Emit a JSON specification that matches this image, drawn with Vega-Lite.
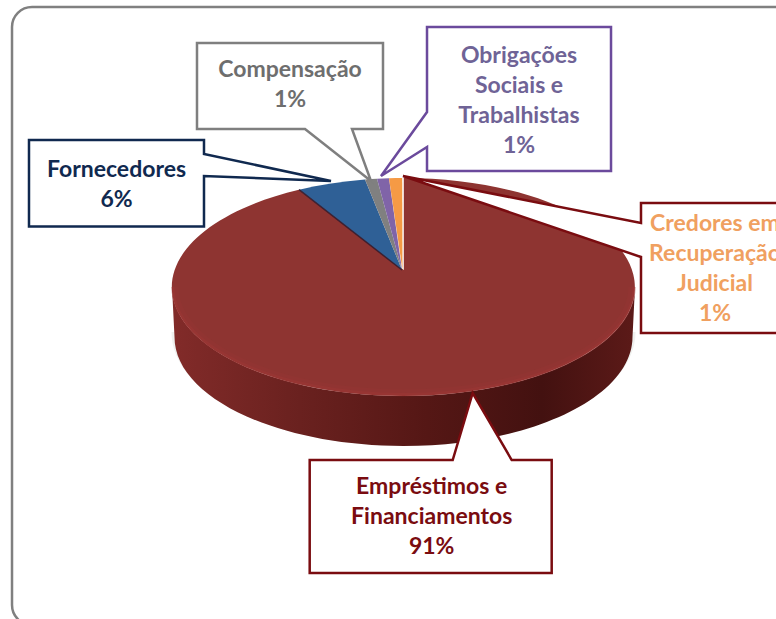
{
"$schema":"https://vega.github.io/schema/vega-lite/v6.json",
"width":776,"height":619,"padding":0,"autosize":{"type":"none"},
"background":"white",
"config":{"view":{"stroke":null}},
"data":{"values":[
{"slice":"Empréstimos e Financiamentos","pct":91,"label":"Empréstimos e\nFinanciamentos\n91%","lx":0.1242,"ly":-2.2661,"ty":-1.9908},
{"slice":"Fornecedores","pct":6,"label":"Fornecedores\n6%","lx":-1.2403,"ly":0.7844,"ty":0.9174},
{"slice":"Compensação","pct":1,"label":"Compensação\n1%","lx":-0.4892,"ly":1.6881,"ty":1.8349},
{"slice":"Obrigações Sociais e Trabalhistas","pct":1,"label":"Obrigações\nSociais e\nTrabalhistas\n1%","lx":0.5022,"ly":1.5505,"ty":1.9633},
{"slice":"Credores em Recuperação Judicial","pct":1,"label":"Credores em\nRecuperação\nJudicial\n1%","lx":1.3506,"ly":0.0092,"ty":0.422}
]},
"resolve":{"scale":{"shape":"independent","color":"independent","stroke":"independent"}},
"layer":[
{"mark":{"type":"rect","fill":"white","stroke":"#808080","strokeWidth":2.5,"cornerRadius":20},
 "transform":[{"filter":"datum.pct==91"}],
 "encoding":{
  "x":{"datum":-1.6926,"type":"quantitative","scale":{"domain":[-1.7446,1.6147],"nice":false,"zero":false},"axis":null},
  "x2":{"datum":1.697},
  "y":{"datum":2.4128,"type":"quantitative","scale":{"domain":[-3.2018,2.4771],"nice":false,"zero":false},"axis":null},
  "y2":{"datum":-3.2569}}},
{"mark":{"type":"point","filled":false,"fill":"transparent","stroke":"#eceeec","strokeWidth":3,"opacity":0.8,"size":4},
 "transform":[{"filter":"datum.pct==91"}],
 "encoding":{
  "x":{"datum":0,"type":"quantitative","axis":null},"y":{"datum":0,"type":"quantitative","axis":null},
  "shape":{"value":"M-230,62 A230,112 0 0 0 231,62"}}},
{"mark":{"type":"point","filled":true,"opacity":1,"size":4,"strokeWidth":0,
  "fill":{"gradient":"linear","x1":0,"y1":0,"x2":1,"y2":0,"stops":[{"offset":0,"color":"#822b29"},{"offset":0.25,"color":"#6c2220"},{"offset":0.55,"color":"#551715"},{"offset":0.8,"color":"#431110"},{"offset":1,"color":"#5c1a18"}]}},
 "transform":[{"filter":"datum.pct==91"}],
 "encoding":{
  "x":{"datum":0,"type":"quantitative","axis":null},"y":{"datum":0,"type":"quantitative","axis":null},
  "shape":{"value":"M-231,17 A231.5,109 0 0 0 232,17 L229.5,67 A229,109 0 0 1 -228.5,67 Z"}}},
{"mark":{"type":"point","filled":true,"opacity":1,"size":4,"strokeWidth":0},
 "encoding":{
  "x":{"datum":0,"type":"quantitative","axis":null},"y":{"datum":0,"type":"quantitative","axis":null},
  "shape":{"field":"slice","type":"nominal","legend":null,"scale":{
    "domain":["Empréstimos e Financiamentos","Fornecedores","Compensação","Obrigações Sociais e Trabalhistas","Credores em Recuperação Judicial"],
    "range":["M0.8,0 L0.8,-92 A231.5,109 0 1 1 -104,-80.3 Z","M-1,0 L-104,-80.3 A231.5,109 0 0 1 -38,-90.5 Z","M-1,0 L-38,-90.5 A231.5,109 0 0 1 -26,-91.3 Z","M-1,0 L-26,-91.3 A231.5,109 0 0 1 -14,-91.8 Z","M-0.5,0 L-14,-91.8 A231.5,109 0 0 1 -0.8,-92 Z"]}},
  "color":{"field":"slice","type":"nominal","legend":null,"scale":{
    "domain":["Empréstimos e Financiamentos","Fornecedores","Compensação","Obrigações Sociais e Trabalhistas","Credores em Recuperação Judicial"],
    "range":["#8e3431","#2f6096","#808080","#8064a8","#f59a45"]}}}},
{"mark":{"type":"point","filled":false,"fill":"transparent","stroke":"#3a1c2c","strokeWidth":1.5,"opacity":0.9,"size":4},
 "transform":[{"filter":"datum.pct==6"}],
 "encoding":{
  "x":{"datum":0,"type":"quantitative","axis":null},"y":{"datum":0,"type":"quantitative","axis":null},
  "shape":{"value":"M-1,0 L-104,-80.3"}}},
{"mark":{"type":"point","filled":false,"fill":"transparent","stroke":"#a03836","strokeWidth":7,"opacity":0.2,"size":4},
 "transform":[{"filter":"datum.pct==91"}],
 "encoding":{
  "x":{"datum":0,"type":"quantitative","axis":null},"y":{"datum":0,"type":"quantitative","axis":null},
  "shape":{"value":"M-228,17 A228.5,106 0 0 0 229,17"}}},
{"mark":{"type":"point","filled":false,"fill":"transparent","stroke":"#a03836","strokeWidth":3,"opacity":0.4,"size":4},
 "transform":[{"filter":"datum.pct==91"}],
 "encoding":{
  "x":{"datum":0,"type":"quantitative","axis":null},"y":{"datum":0,"type":"quantitative","axis":null},
  "shape":{"value":"M-230,17 A230.5,107.5 0 0 0 231,17"}}},
{"mark":{"type":"point","filled":true,"fill":"white","opacity":1,"size":4,"strokeWidth":2.5,"strokeJoin":"miter"},
 "encoding":{
  "x":{"field":"lx","type":"quantitative","axis":null},"y":{"field":"ly","type":"quantitative","axis":null},
  "shape":{"field":"slice","type":"nominal","legend":null,"scale":{
    "domain":["Empréstimos e Financiamentos","Fornecedores","Compensação","Obrigações Sociais e Trabalhistas","Credores em Recuperação Judicial"],
    "range":[
     "M-122,-57 L21,-57 L41,-124 L80,-57 L120,-57 L120,56 L-122,56 Z",
     "M-87.5,-44.5 L87.5,-44.5 L87.5,-30.5 L214.5,-3.5 L87.5,-8.5 L87.5,42 L-87.5,42 Z",
     "M-93,-43 L93,-43 L93,43 L62,43 L81,95 L15,43 L-93,43 Z",
     "M-92,-74 L92,-74 L92,70 L-92,70 L-92,46 L-138,75 L-92,11 Z",
     "M-74,-66 L85,-66 L85,64 L-74,64 L-74,-12 L-312,-93 L-74,-46 Z"]}},
  "stroke":{"field":"slice","type":"nominal","legend":null,"scale":{
    "domain":["Empréstimos e Financiamentos","Fornecedores","Compensação","Obrigações Sociais e Trabalhistas","Credores em Recuperação Judicial"],
    "range":["#7a0c10","#10294f","#7f7f7f","#6b4a9c","#7a0c10"]}}}},
{"mark":{"type":"text","font":"Lato","fontWeight":"bold","fontSize":23,"lineHeight":30,"lineBreak":"\n","align":"center","baseline":"middle"},
 "encoding":{
  "x":{"field":"lx","type":"quantitative","axis":null},"y":{"field":"ty","type":"quantitative","axis":null},
  "text":{"field":"label","type":"nominal"},
  "color":{"field":"slice","type":"nominal","legend":null,"scale":{
    "domain":["Empréstimos e Financiamentos","Fornecedores","Compensação","Obrigações Sociais e Trabalhistas","Credores em Recuperação Judicial"],
    "range":["#7a0c10","#10294f","#6e6e6e","#6f6396","#f0a060"]}}}}
]
}
